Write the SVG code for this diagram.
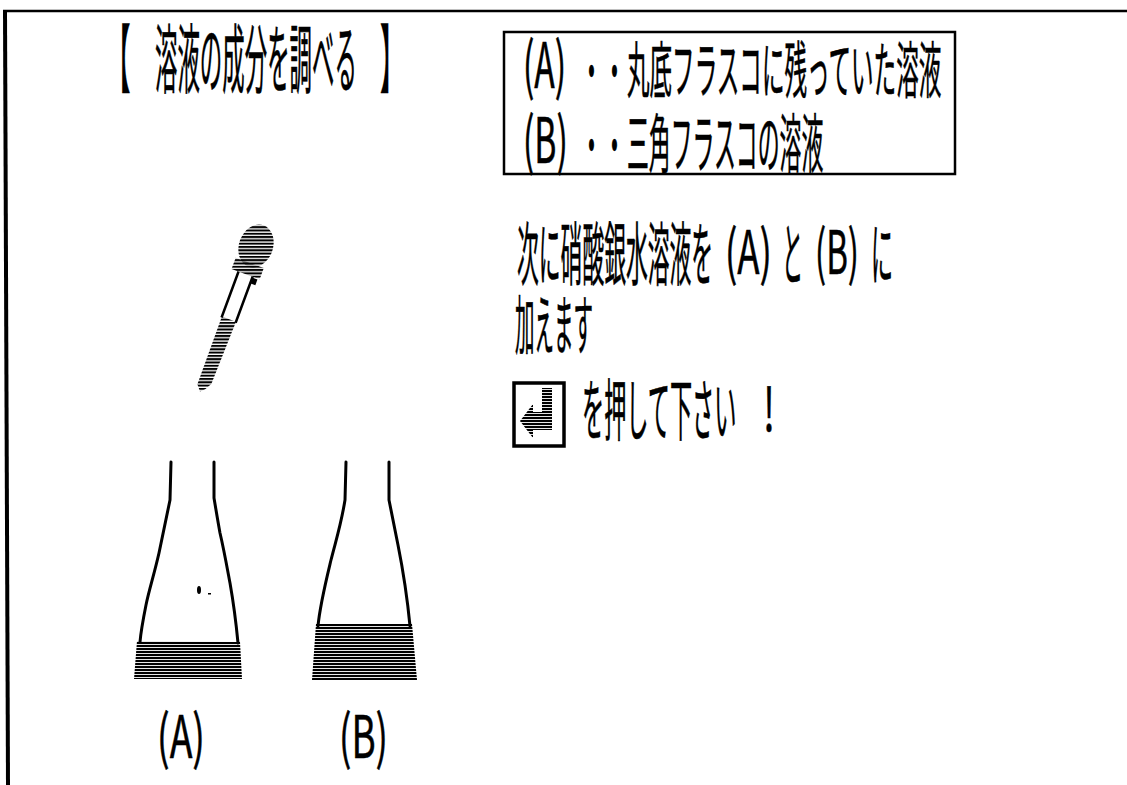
<svg xmlns="http://www.w3.org/2000/svg" width="1127" height="785" viewBox="0 0 1127 785">
  <defs>
    <!-- horizontal line shading used for liquids and the key icon -->
    <pattern id="hatch" width="4" height="3" patternUnits="userSpaceOnUse">
      <rect width="4" height="2.1" fill="#000"/>
    </pattern>
    <!-- same shading, counter-rotated so it stays horizontal inside the tilted dropper -->
    <pattern id="hatch-tilt" width="4" height="3.3" patternUnits="userSpaceOnUse" patternTransform="rotate(-20.3)">
      <rect width="4" height="2" fill="#000"/>
    </pattern>
  </defs>
  <style>
    .t{font-family:"Noto Sans CJK JP","Noto Sans CJK SC",sans-serif;fill:#000;stroke:#000;stroke-width:0.5}
    .wall{fill:none;stroke:#000;stroke-width:3;stroke-linecap:round;stroke-linejoin:round}
    .edge{fill:none;stroke:#000}
  </style>

  <rect width="1127" height="785" fill="#fff"/>

  <!-- screen frame -->
  <g id="frame">
    <line class="edge" x1="3" y1="11" x2="1127" y2="11" stroke-width="2.5"/>
    <line class="edge" x1="5" y1="10" x2="8" y2="785" stroke-width="4"/>
  </g>

  <!-- heading: full-width glyphs (1em each), narrowed and slightly heightened -->
  <g id="title">
    <text class="t" font-size="66" transform="translate(106,87) scale(0.37,1.13)">【</text>
    <text class="t" font-size="66" transform="translate(155,87) scale(0.34,1.13)">溶液の成分を調べる</text>
    <text class="t" font-size="66" transform="translate(380,87) scale(0.37,1.13)">】</text>
  </g>

  <!-- legend box -->
  <g id="legend">
    <rect class="edge" x="504" y="32" width="451" height="142" stroke-width="2.5"/>
    <text class="t" font-size="58" transform="translate(523,88) scale(0.58,1.08)">(A)</text>
    <text class="t" font-size="56" transform="translate(580,92) scale(0.41,1)">・・</text>
    <text class="t" font-size="56" transform="translate(627,93) scale(0.403,1.1)">丸底フラスコに残っていた溶液</text>
    <text class="t" font-size="58" transform="translate(523,163) scale(0.58,1.08)">(B)</text>
    <text class="t" font-size="56" transform="translate(580,166) scale(0.41,1)">・・</text>
    <text class="t" font-size="58" transform="translate(627,167) scale(0.377,1.1)">三角フラスコの溶液</text>
  </g>

  <!-- instructions -->
  <g id="instructions">
    <text class="t" font-size="63" transform="translate(517,280) scale(0.346,1.1)">次に硝酸銀水溶液を</text>
    <text class="t" x="725" y="274" font-size="60" textLength="47" lengthAdjust="spacingAndGlyphs">(A)</text>
    <text class="t" font-size="63" transform="translate(782,280) scale(0.335,1.1)">と</text>
    <text class="t" x="815" y="274" font-size="60" textLength="44" lengthAdjust="spacingAndGlyphs">(B)</text>
    <text class="t" font-size="63" transform="translate(871,280) scale(0.35,1.1)">に</text>
    <text class="t" font-size="59" transform="translate(515,349) scale(0.33,1.1)">加えます</text>
    <g id="enter-key">
      <rect class="edge" x="514" y="383" width="50" height="63" stroke-width="3.5"/>
      <path d="M552,388 L552,430 L533,430 L533,438 L520,421 L533,404 L533,412 L542,412 L542,388 Z" fill="url(#hatch)"/>
    </g>
    <text class="t" font-size="61" transform="translate(582,435) scale(0.363,1.1)">を押して下さい</text>
    <text class="t" x="763" y="431" font-size="60" textLength="12" lengthAdjust="spacingAndGlyphs">!</text>
  </g>

  <!-- dropper, drawn along its own axis and tilted -->
  <g id="dropper" transform="translate(256,246) rotate(20.3)">
    <ellipse cx="0" cy="0" rx="17" ry="22" fill="url(#hatch-tilt)"/>
    <rect x="-15" y="18" width="30" height="12" fill="url(#hatch-tilt)"/>
    <rect x="8" y="31" width="5" height="6" fill="#000"/>
    <path class="edge" d="M-7.5,30 L-7.5,79 M7.5,30 L7.5,79" stroke-width="2.5"/>
    <path d="M-7.5,78 L7.5,78 L6,145 L2,152 L-2,156 L-7,150 Z" fill="url(#hatch-tilt)"/>
  </g>

  <!-- flask A -->
  <g id="flask-a">
    <path class="wall" d="M171,462 L170,500 C166,520 162,538 159,553 C154,575 149,590 146,605 C143,620 141,630 140,642"/>
    <path class="wall" d="M214,462 L214,498 C216,510 218,522 220,533 C224,550 227,567 230,583 C233,600 236,622 238,643"/>
    <path d="M137,641 L240,642 L242,679 L134,679 Z" fill="url(#hatch)"/>
    <ellipse cx="199" cy="590" rx="2" ry="4" fill="#000"/>
    <rect x="208" y="593" width="3" height="1.5" fill="#000"/>
  </g>
  <text id="label-a" class="t" x="157" y="758" font-size="59" textLength="48" lengthAdjust="spacingAndGlyphs">(A)</text>

  <!-- flask B -->
  <g id="flask-b">
    <path class="wall" d="M346,462 L345,500 C341,525 336,540 331,560 C325,585 320,605 318,626"/>
    <path class="wall" d="M389,462 L389,500 C392,515 395,530 398,545 C403,570 407,595 410,626"/>
    <path d="M316,624 L412,624 L417,680 L312,680 Z" fill="url(#hatch)"/>
  </g>
  <text id="label-b" class="t" x="339" y="758" font-size="59" textLength="49" lengthAdjust="spacingAndGlyphs">(B)</text>
</svg>
